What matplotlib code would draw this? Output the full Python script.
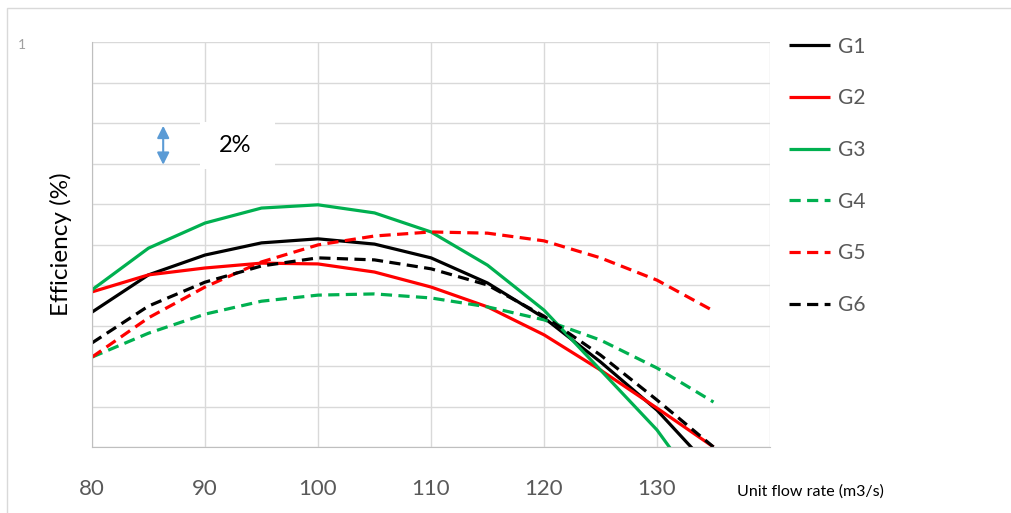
import numpy as np
import matplotlib
matplotlib.use('Agg')
import matplotlib.pyplot as plt
from matplotlib.patches import Rectangle

plt.rcParams['font.family'] = ['Lato', 'DejaVu Sans']

# flow rate (m3/s) and efficiency (one grid step = 2 %)
flow = [80, 85, 90, 95, 100, 105, 110, 115, 120, 125, 130, 135]
g1 = [86.66, 88.5, 89.48, 90.08, 90.28, 90.02, 89.34, 88.1, 86.38, 84.2, 81.82, 78.8]
g2 = [87.66, 88.5, 88.84, 89.08, 89.04, 88.64, 87.9, 86.92, 85.54, 83.8, 81.92, 80.0]
g3 = [87.76, 89.82, 91.06, 91.8, 91.96, 91.56, 90.62, 88.98, 86.76, 83.8, 80.84, 77.0]
g4 = [84.44, 85.62, 86.56, 87.2, 87.5, 87.56, 87.36, 86.92, 86.28, 85.28, 83.9, 82.22]
g5 = [84.44, 86.38, 87.9, 89.14, 89.98, 90.42, 90.62, 90.56, 90.18, 89.34, 88.24, 86.72]
g6 = [85.14, 86.96, 88.14, 88.94, 89.34, 89.24, 88.8, 88.0, 86.46, 84.54, 82.32, 80.0]

series = [
    ('G1', g1, 'black', '-'),
    ('G2', g2, '#FF0000', '-'),
    ('G3', g3, '#00B050', '-'),
    ('G4', g4, '#00B050', '--'),
    ('G5', g5, '#FF0000', '--'),
    ('G6', g6, 'black', '--'),
]
xticks = [80, 90, 100, 110, 120, 130]

fig = plt.figure(figsize=(10.11, 5.13), dpi=100)
ax = fig.add_axes([92 / 1011, 1 - 447 / 513, (770 - 92) / 1011, (447 - 42) / 513])

for name, vals, col, ls in series:
    line, = ax.plot(flow, vals, color=col, lw=2.3, ls=ls, label=name,
                    solid_capstyle='butt')
    if ls == '--':
        line.set_dashes((3.5, 2))

ax.set_xlim(80, 140)
ax.set_ylim(80, 100)
ax.set_xticks(np.arange(80, 141, 10))
ax.set_xticklabels(xticks + [''])
ax.set_yticks(np.arange(80, 101, 2))
ax.set_yticklabels([])
ax.grid(True, color='#D9D9D9', lw=1.0)
ax.set_axisbelow(True)
ax.tick_params(length=0)
ax.tick_params(axis='x', pad=23, labelsize=16, labelcolor='#595959')
for s in ['top', 'right']:
    ax.spines[s].set_visible(False)
for s in ['left', 'bottom']:
    ax.spines[s].set_color('#BFBFBF')

ax.set_ylabel('Efficiency (%)', fontsize=17.5)
ax.yaxis.set_label_coords(-20 / 678, 0.5)

# 2% scale marker
ax.add_patch(Rectangle((89.6, 93.75), 6.6, 2.3, facecolor='white',
                       edgecolor='none', zorder=2))
ax.annotate('', xy=(86.3, 93.8), xytext=(86.3, 96.0),
            arrowprops=dict(arrowstyle='<|-|>', color='#5B9BD5', lw=1.5,
                            mutation_scale=18), zorder=3)
ax.text(92.7, 94.9, '2%', fontsize=17, ha='center', va='center', zorder=3)

fig.text(737 / 1011, 1 - 492 / 513, 'Unit flow rate (m3/s)', fontsize=11.5,
         va='center')
fig.text(18 / 1011, 1 - 45 / 513, '1', fontsize=10, color='#A0A0A0',
         va='center')

leg = ax.legend(loc='upper left', bbox_to_anchor=(770 / 1011, 1 - 18 / 513),
                bbox_transform=fig.transFigure, frameon=False, fontsize=15,
                handlelength=2.0, handletextpad=0.35, labelspacing=1.52,
                labelcolor='#595959')

# outer chart border
fig.patches.append(Rectangle((7 / 1011, -0.1), 1.2, 1 - 8 / 513 + 0.1,
                             transform=fig.transFigure, fill=False,
                             edgecolor='#D9D9D9', lw=1.0))

fig.savefig('out.png', dpi=100)
